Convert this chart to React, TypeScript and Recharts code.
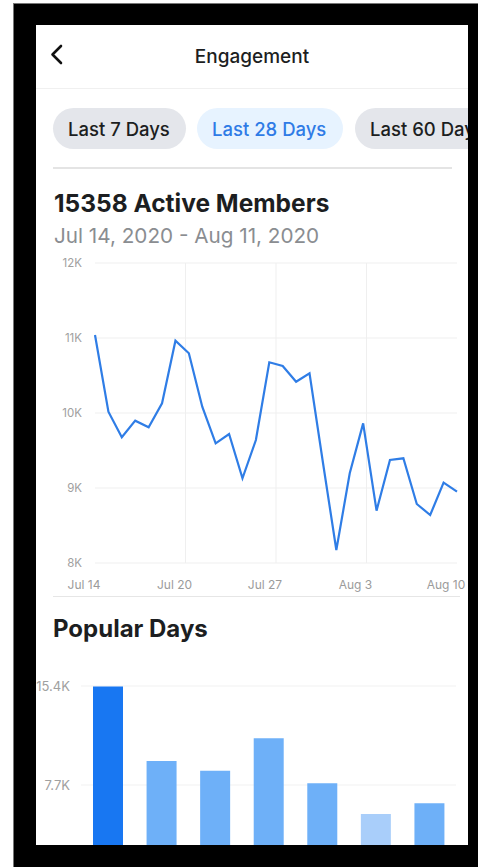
import React from "react";
import { LineChart, Line, XAxis, YAxis, CartesianGrid, ReferenceLine, BarChart, Bar, Cell } from "recharts";

// daily active members, Jul 14 - Aug 10
const days = [
  "Jul 14", "Jul 15", "Jul 16", "Jul 17", "Jul 18", "Jul 19", "Jul 20",
  "Jul 21", "Jul 22", "Jul 23", "Jul 24", "Jul 25", "Jul 26", "Jul 27",
  "Jul 28", "Jul 29", "Jul 30", "Jul 31", "Aug 1", "Aug 2", "Aug 3",
  "Aug 4", "Aug 5", "Aug 6", "Aug 7", "Aug 8", "Aug 9", "Aug 10",
];
const activeMembers = [
  11040, 10018, 9676, 9898, 9809, 10129, 10964,
  10796, 10084, 9596, 9720, 9129, 9640, 10676,
  10627, 10417, 10529, 9340, 8173, 9196, 9862,
  8698, 9373, 9396, 8787, 8640, 9071, 8951,
];
const memberTicks = [8000, 9000, 10000, 11000, 12000];
const dateTickLabels = ["Jul 14", "Jul 20", "Jul 27", "Aug 3", "Aug 10"];

// popular days
const weekdays = ["Sun", "Mon", "Tue", "Wed", "Thu", "Fri", "Sat"];
const weekdayMembers = [15358, 9567, 8812, 11332, 7832, 5444, 6277];
const weekdayTicks = [7700, 15400];

const barColors = ["#1877f2", "#6eb0f8", "#6eb0f8", "#6eb0f8", "#6eb0f8", "#a9cefa", "#6eb0f8"];

const lineData = activeMembers.map((v, i) => ({ i, day: days[i], members: v }));
const barData = weekdays.map((d, i) => ({ day: d, members: weekdayMembers[i] }));
const lastIndex = days.length - 1;
const dateTicks = dateTickLabels.map((_, k) => (k * lastIndex) / (dateTickLabels.length - 1));

const fmtK = (v: number) => (v === 0 ? "0" : `${v / 1000}K`);

const FONT = "Inter, 'Noto Sans', sans-serif";
const PX = 36; // panel offset in page
const PY = 25;

function DateTick(props: any) {
  const { x, y, index } = props;
  return (
    <text x={x - 11} y={y} dy="0.71em" textAnchor="middle" fontSize={12} fill="#9b9b9b">
      {dateTickLabels[index]}
    </text>
  );
}

// position a line of text by its baseline (page coordinates)
function Label({ x, baseline, size, weight = 400, color = "#1c1e21", children, center }: any) {
  return (
    <div
      style={{
        position: "absolute",
        left: center ? 0 : x - PX,
        width: center ? 432 : undefined,
        textAlign: center ? "center" : "left",
        top: baseline - PY - 0.863 * size,
        fontSize: size,
        lineHeight: `${size}px`,
        fontWeight: weight,
        color,
        whiteSpace: "nowrap",
      }}
    >
      {children}
    </div>
  );
}

function Chip({ left, width, bg, color, children }: any) {
  return (
    <div
      style={{
        position: "absolute",
        left: left - PX,
        top: 108 - PY,
        width,
        height: 41,
        borderRadius: 21,
        background: bg,
        color,
        fontSize: 18.5,
        fontWeight: 500,
        display: "flex",
        alignItems: "center",
        paddingLeft: 15,
        boxSizing: "border-box",
        whiteSpace: "nowrap",
        overflow: "hidden",
      }}
    >
      {children}
    </div>
  );
}

export default function App() {
  return (
    <div style={{ position: "absolute", left: 0, top: 0, width: 478, height: 867, background: "#fff", overflow: "hidden", fontFamily: FONT }}>
      <div style={{ position: "absolute", left: 13, top: 3, width: 470, height: 870, background: "#000", borderLeft: "1px solid #777", borderTop: "1px solid #777" }} />
      <div style={{ position: "absolute", left: PX, top: PY, width: 432, height: 820, background: "#fff", overflow: "hidden" }}>
        {/* header */}
        <svg style={{ position: "absolute", left: 0, top: 0 }} width={60} height={60}>
          <polyline points={`${61 - PX},${46 - PY} ${52.5 - PX},${54.5 - PY} ${61 - PX},${63 - PY}`} fill="none" stroke="#111" strokeWidth={2.6} strokeLinecap="round" strokeLinejoin="round" />
        </svg>
        <Label center baseline={63} size={19} weight={500}>Engagement</Label>
        <div style={{ position: "absolute", left: 0, top: 88 - PY, width: 432, height: 1, background: "#f0f0f0" }} />

        <Chip left={53} width={133} bg="#e4e6eb" color="#1c1e21">Last 7 Days</Chip>
        <Chip left={197} width={146} bg="#e7f3ff" color="#2f7be6">Last 28 Days</Chip>
        <Chip left={355} width={140} bg="#e4e6eb" color="#1c1e21">Last 60 Days</Chip>
        <div style={{ position: "absolute", left: 53 - PX, top: 167 - PY, width: 399, height: 2, background: "#e4e4e4" }} />

        <Label x={54} baseline={212} size={24.5} weight={700}>15358 Active Members</Label>
        <Label x={54} baseline={244} size={20.7} weight={400} color="#8a8d91">Jul 14, 2020 - Aug 11, 2020</Label>

        <div style={{ position: "absolute", left: 0, top: 250 - PY }}>
          <LineChart width={432} height={343} data={lineData} margin={{ top: 13, right: 11, left: 0, bottom: 0 }}>
            <CartesianGrid stroke="#efefef" strokeWidth={1} vertical={false} />
            {dateTicks.slice(1, -1).map((t) => (
              <ReferenceLine key={t} x={t} stroke="#efefef" strokeWidth={1} />
            ))}
            <XAxis
              type="number"
              dataKey="i"
              domain={[0, lastIndex]}
              ticks={dateTicks}
              interval={0}
              axisLine={false}
              tickLine={false}
              tickSize={0}
              tickMargin={17}
              height={30}
              tick={<DateTick />}
            />
            <YAxis
              domain={[8000, 12000]}
              ticks={memberTicks}
              tickFormatter={fmtK}
              axisLine={false}
              tickLine={false}
              tickSize={0}
              tickMargin={13}
              width={59}
              tick={{ fontSize: 11.5, fill: "#a0a0a0" }}
            />
            <Line type="linear" dataKey="members" stroke="#2f7de6" strokeWidth={2.2} dot={false} isAnimationActive={false} />
          </LineChart>
        </div>
        <div style={{ position: "absolute", left: 53 - PX, top: 596 - PY, width: 407, height: 1, background: "#e6e6e6" }} />

        <Label x={53} baseline={638} size={24} weight={700}>Popular Days</Label>

        <div style={{ position: "absolute", left: 0, top: 676 - PY }}>
          <BarChart width={432} height={238} data={barData} margin={{ top: 10, right: 12, left: 0, bottom: 30 }}>
            <CartesianGrid stroke="#f1f1f1" vertical={false} />
            <XAxis dataKey="day" hide />
            <YAxis
              domain={[0, 15400]}
              ticks={weekdayTicks}
              tickFormatter={fmtK}
              axisLine={false}
              tickLine={false}
              tickSize={0}
              tickMargin={11}
              width={45}
              tick={{ fontSize: 13, fill: "#a0a0a0" }}
            />
            <Bar dataKey="members" barSize={30} isAnimationActive={false}>
              {barData.map((_, i) => (
                <Cell key={i} fill={barColors[i]} />
              ))}
            </Bar>
          </BarChart>
        </div>
      </div>
    </div>
  );
}
